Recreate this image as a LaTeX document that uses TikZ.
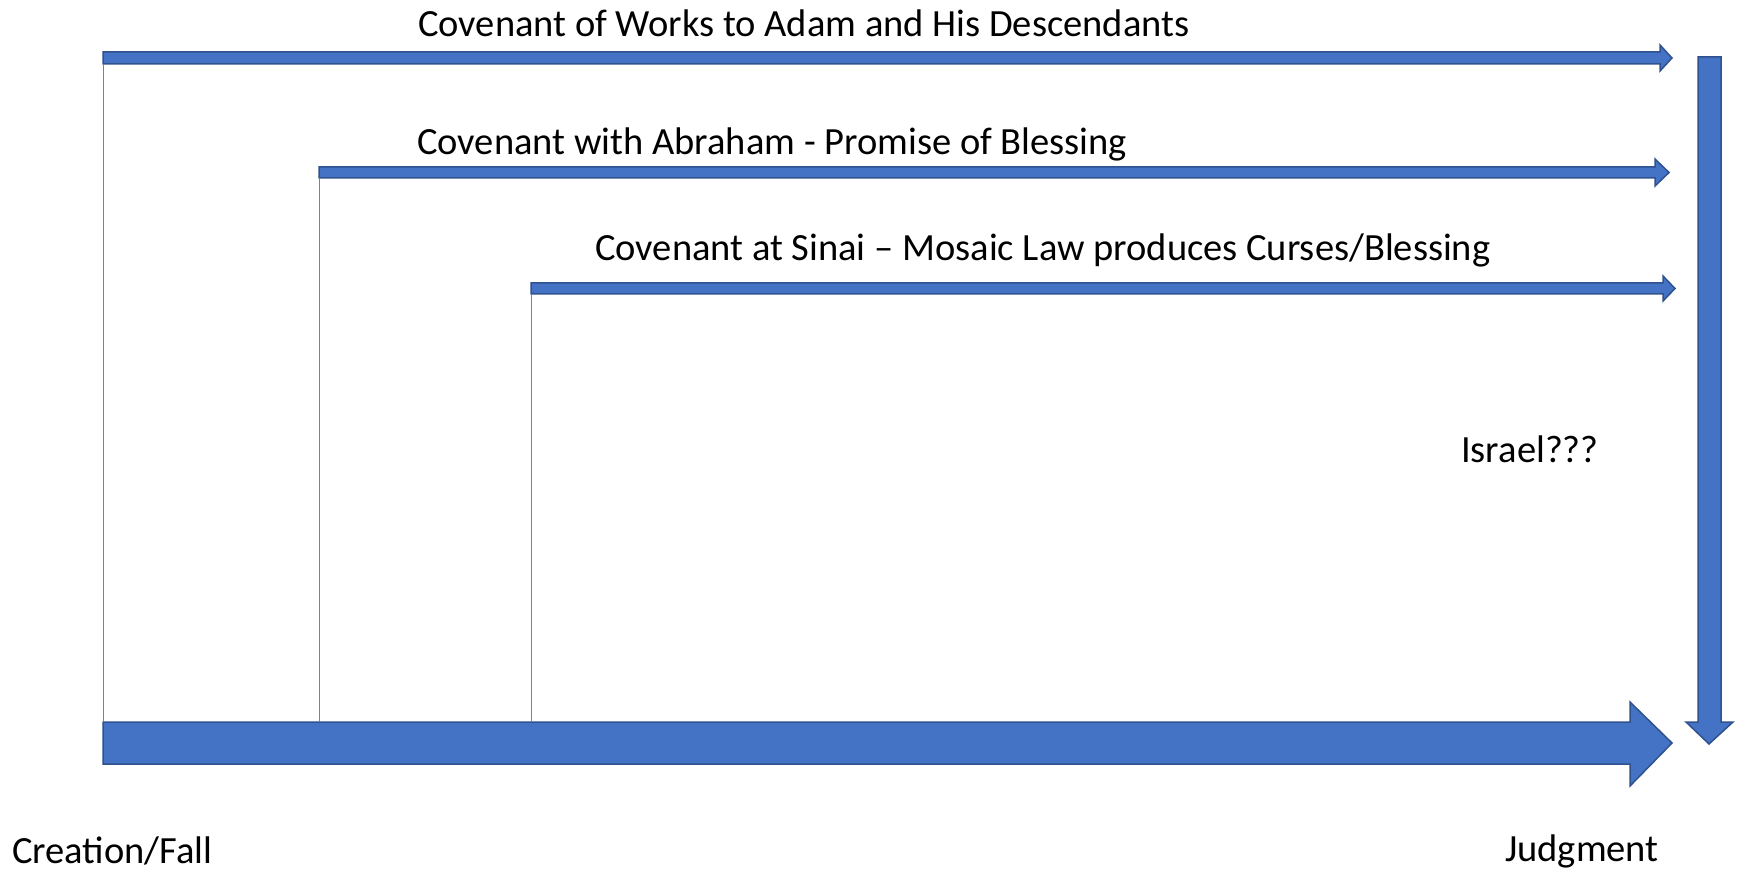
\documentclass[tikz,border=0pt]{standalone}
\usepackage{fontspec}
\setmainfont{Carlito}
\definecolor{abody}{HTML}{4472C4}
\definecolor{aedge}{HTML}{2F528F}
\definecolor{thinl}{HTML}{5B85CF}
\begin{document}
\begin{tikzpicture}[x=1pt,y=-1pt,
  arrowshape/.style={fill=abody,draw=aedge,line width=1.5pt,line join=miter},
  vline/.style={draw=thinl,line width=1pt},
  lbl/.style={anchor=base west,inner sep=0pt,font=\fontsize{38.5}{46}\selectfont}]
\useasboundingbox (0,0) rectangle (1737,874);
% covenant arrows
\fill[arrowshape] (103,52) -- (1660,52) -- (1660,45) -- (1672,58) -- (1660,71) -- (1660,64) -- (103,64) -- cycle;
\fill[arrowshape] (319,167) -- (1655,167) -- (1655,159) -- (1669,172.5) -- (1655,186) -- (1655,178) -- (319,178) -- cycle;
\fill[arrowshape] (531,283) -- (1663,283) -- (1663,276) -- (1675,288.5) -- (1663,301) -- (1663,294) -- (531,294) -- cycle;
% main time arrow
\fill[arrowshape] (103,722) -- (1630,722) -- (1630,702) -- (1672,743) -- (1630,786) -- (1630,764) -- (103,764) -- cycle;
% down arrow
\fill[arrowshape] (1698,57) -- (1721,57) -- (1721,722) -- (1733,722) -- (1709,744) -- (1686,722) -- (1698,722) -- cycle;
% connector coordinates
\coordinate (a1) at (103,64);  \coordinate (b1) at (103,722);
\coordinate (a2) at (319,178); \coordinate (b2) at (319,722);
\coordinate (a3) at (531,294); \coordinate (b3) at (531,722);
\draw[vline] (a1) -- (b1);
\draw[vline] (a2) -- (b2);
\draw[vline] (a3) -- (b3);
% labels
\node[lbl] (t1) at (418,37) {Covenant of Works to Adam and His Descendants};
\node[lbl] (t2) at (417,155) {Covenant with Abraham - Promise of Blessing};
\node[lbl] (t3) at (595,261) {Covenant at Sinai – Mosaic Law produces Curses/Blessing};
\node[lbl] (isr) at (1461,462) {Israel???};
\node[lbl] (cf) at (12,863) {Creation/Fall};
\node[lbl] (jd) at (1505,861) {Judgment};
\end{tikzpicture}
\end{document}
